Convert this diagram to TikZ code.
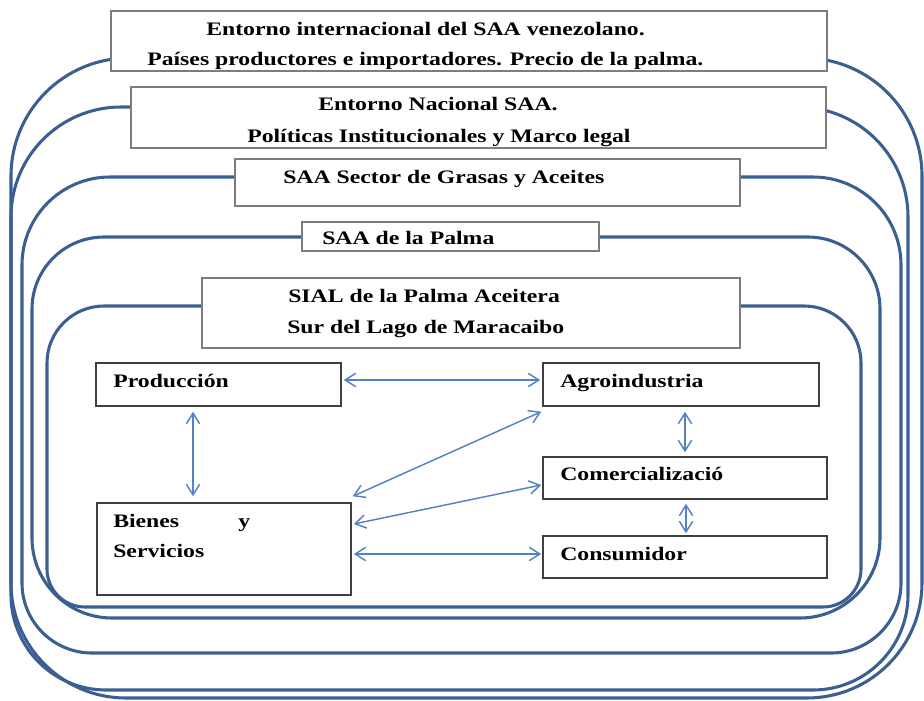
\documentclass[tikz,border=0pt]{standalone}
\usepackage{fontspec}
\setmainfont{Liberation Serif}[FakeStretch=1.245]
\usetikzlibrary{arrows.meta,calc,fit}
\definecolor{ringblue}{RGB}{59,95,145}
\definecolor{arrowblue}{RGB}{84,130,196}
\definecolor{boxgray}{RGB}{125,125,125}
\definecolor{boxdark}{RGB}{64,64,64}
% #1 xl, #2 xr, #3 ytop, #4 ybottom, #5 top radius, #6 bottom radius (pixels, y downward)
\newcommand{\ringshape}[6]{%
  \draw[ring] ({#1+#5},#3) -- ({#2-#5},#3) arc[start angle=-90,end angle=0,radius=#5]
    -- (#2,{#4-#6}) arc[start angle=0,end angle=90,radius=#6]
    -- ({#1+#6},#4) arc[start angle=90,end angle=180,radius=#6]
    -- (#1,{#3+#5}) arc[start angle=180,end angle=270,radius=#5] -- cycle;}
\begin{document}
\begin{tikzpicture}[x=0.75pt,y=-0.75pt,
  ring/.style={draw=ringblue,line width=2.3pt},
  lbox/.style={draw=boxgray,line width=0.9pt,fill=white,inner sep=0pt},
  ibox/.style={draw=boxdark,line width=1.1pt,fill=white,inner sep=0pt},
  txt/.style={font=\fontsize{14.3}{16}\selectfont\bfseries,inner sep=0pt,anchor=base west},
  link/.style={draw=arrowblue,line width=1.1pt,>={Straight Barb[length=8pt,width=10pt]},<->}]
\useasboundingbox (0,0) rectangle (924,700);
% nested rings
\ringshape{11}{922}{58}{698}{118}{115}
\ringshape{11}{908}{107}{690}{110}{95}
\ringshape{22}{901}{177}{653}{88}{70}
\ringshape{32}{880}{237}{618}{72}{80}
\ringshape{47}{861}{306}{607}{57}{38}
% label boxes
\node[lbox,fit={(111,11) (827,71)}] (b1) {};
\node[lbox,fit={(131,87) (826,148)}] (b2) {};
\node[lbox,fit={(235,159) (740,206)}] (b3) {};
\node[lbox,fit={(302,222) (599,251)}] (b4) {};
\node[lbox,fit={(202,278) (740,348)}] (b5) {};
% inner boxes
\node[ibox,fit={(96,363) (341,406)}] (prod) {};
\node[ibox,fit={(97,503) (351,595)}] (bien) {};
\node[ibox,fit={(543,363) (819,406)}] (agro) {};
\node[ibox,fit={(543,457) (827,499)}] (comm) {};
\node[ibox,fit={(543,536) (827,578)}] (cons) {};
% texts
\node[txt] (t1a) at (206,35) {Entorno internacional del SAA venezolano.};
\node[txt] (t1b) at (147,65) {Países productores e importadores. Precio de la palma.};
\node[txt] (t2a) at (318,110) {Entorno Nacional SAA.};
\node[txt] (t2b) at (247,142) {Políticas Institucionales y Marco legal};
\node[txt] (t3) at (283,183) {SAA Sector de Grasas y Aceites};
\node[txt] (t4) at (322,244) {SAA de la Palma};
\node[txt] (t5a) at (288,302) {SIAL de la Palma Aceitera};
\node[txt] (t5b) at (287,333) {Sur del Lago de Maracaibo};
\node[txt] (tprod) at (113,387) {Producción};
\node[txt] (tbien) at (113,527) {Bienes\hspace{40pt} y};
\node[txt] (tserv) at (113,557) {Servicios};
\node[txt] (tagro) at (560,387) {Agroindustria};
\node[txt] (tcomm) at (560,480) {Comercializació};
\node[txt] (tcons) at (560,560) {Consumidor};
% connectors
\draw[link] ($(prod.east)+(2,-4.5)$) -- ($(agro.west)+(-2,-4.5)$);
\draw[link] ($(prod.south)+(-25.5,5)$) -- ($(bien.north)+(-31,-6)$);
\draw[link] ($(agro.south)+(4,5)$) -- ($(comm.north)+(0,-4)$);
\draw[link] ($(comm.south)+(1,4)$) -- ($(cons.north)+(1,-2)$);
\draw[link] ($(bien.north east)+(1,-6)$) -- ($(agro.south west)+(-1,5)$);
\draw[link] ($(bien.east)+(2,-25)$) -- ($(comm.west)+(-1,7)$);
\draw[link] ($(bien.east)+(2,5)$) -- ($(cons.west)+(-1,-3)$);
\end{tikzpicture}
\end{document}
